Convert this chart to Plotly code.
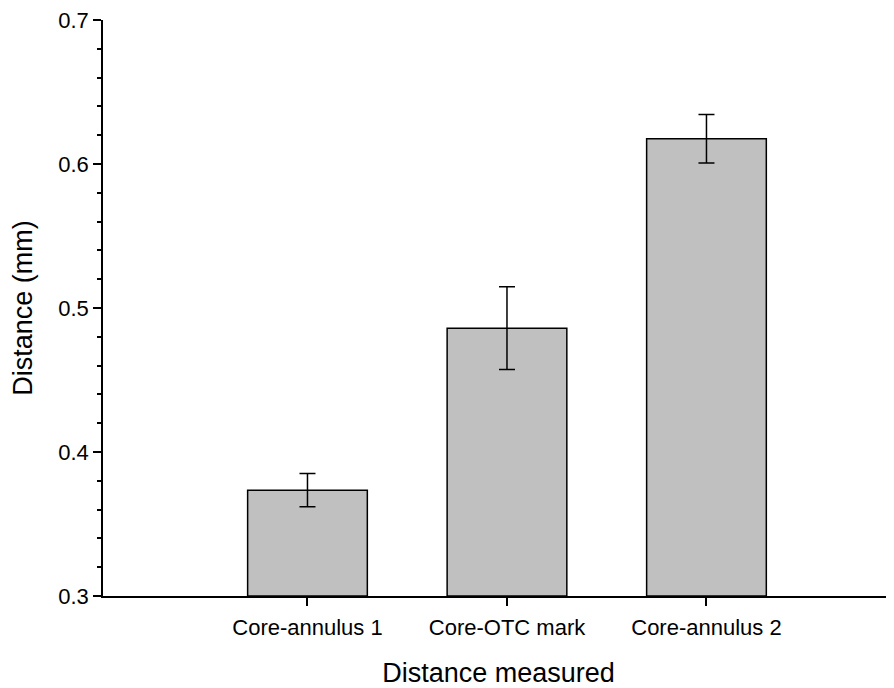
import plotly.graph_objects as go

categories = ["Core-annulus 1", "Core-OTC mark", "Core-annulus 2"]
positions = [0, 1, 2]
means = [0.3735, 0.486, 0.6175]
errors = [0.0115, 0.0287, 0.0168]
y_ticks = [0.3, 0.4, 0.5, 0.6, 0.7]
y_tick_labels = ["0.3", "0.4", "0.5", "0.6", "0.7"]

FONT = "Arial, Liberation Sans, sans-serif"

fig = go.Figure()
fig.add_trace(go.Bar(
    x=positions, y=[m - 0.3 for m in means], base=0.3,
    width=0.6,
    marker=dict(color="#c0c0c0", line=dict(color="black", width=1.5)),
    error_y=dict(type="data", array=errors, visible=True, color="black",
                 thickness=1.5, width=8),
    hoverinfo="skip",
))

# page body has an 8px margin, so the figure is shrunk and shifted to match
fig.update_layout(
    width=886, height=680,
    margin=dict(l=95, r=0, t=10, b=92, pad=0),
    paper_bgcolor="white", plot_bgcolor="white",
    showlegend=False,
    font=dict(family=FONT, size=22, color="black"),
    xaxis=dict(
        range=[-1.025, 2.94], tickmode="array", tickvals=positions,
        ticktext=categories, ticks="outside", ticklen=8, tickwidth=1.5,
        tickcolor="black", showline=True, linecolor="black", linewidth=1.5,
        showgrid=False, zeroline=False, ticklabelstandoff=3,
        ticklabeloverflow="allow",
        tickfont=dict(size=22),
        title=dict(text="Distance measured", font=dict(size=27), standoff=25),
    ),
    yaxis=dict(
        range=[0.3, 0.7], tickmode="array", tickvals=y_ticks,
        ticktext=y_tick_labels, ticks="outside", ticklen=8, tickwidth=1.5,
        tickcolor="black", showline=True, linecolor="black", linewidth=1.5,
        showgrid=False, zeroline=False, ticklabeloverflow="allow",
        minor=dict(dtick=0.02, ticks="outside", ticklen=4, tickwidth=1.5,
                   tickcolor="black", showgrid=False),
        tickfont=dict(size=22),
        title=dict(text="Distance (mm)", font=dict(size=27), standoff=26),
    ),
)

fig.write_html("out.html")
